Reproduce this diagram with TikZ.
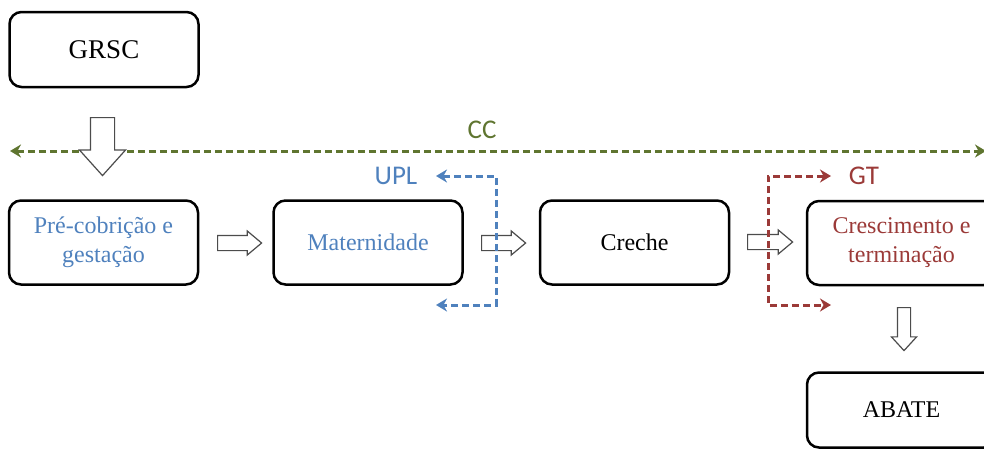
\documentclass[tikz,border=0pt]{standalone}
\usepackage{fontspec}
\setmainfont{Liberation Serif}
\newfontfamily\labelfont{Carlito}
\usetikzlibrary{shapes.arrows,arrows.meta}
\definecolor{ccgreen}{HTML}{5F7530}
\definecolor{uplblue}{HTML}{4F81BD}
\definecolor{gtred}{HTML}{9B3A38}

\begin{document}
\begin{tikzpicture}[x=1pt,y=-1pt,
  stage/.style={draw,line width=2.5pt,rounded corners=12pt,minimum width=189pt,
    minimum height=84pt,align=center,font=\fontsize{24}{29}\selectfont},
  ends/.style={stage,minimum height=75pt},
  fat/.style={single arrow,draw=black!70,fill=white,line width=1.2pt,anchor=tail},
  flow/.style={line width=3pt,dash pattern=on 7pt off 4pt,
    {Stealth[length=11pt,width=13pt]}-{Stealth[length=11pt,width=13pt]}},
  tag/.style={font=\labelfont\fontsize{27}{30}\selectfont}]
\useasboundingbox (0,0) rectangle (984,450);
% boxes
\node[ends,font=\fontsize{27}{30}\selectfont] (grsc) at (104,49.5) {GRSC};
\node[stage,text=uplblue] (pre) at (103.5,242.5) {Pré-cobrição e\\gestação};
\node[stage,text=uplblue] (mat) at (368,242.5) {Maternidade};
\node[stage] (creche) at (634.5,242.5) {Creche};
\node[stage,text=gtred] (cresc) at (901.5,243) {Crescimento e\\terminação};
\node[ends] (abate) at (901.5,410) {ABATE};
% CC line
\coordinate (ccL) at (10,151);
\coordinate (ccR) at (986,151);
\draw[flow,ccgreen] (ccL) -- (ccR);
\node[tag,text=ccgreen] (cc) at (482,130) {CC};
% block arrows
\node[fat,shape border rotate=270,minimum height=58pt,inner sep=11.5pt,
  single arrow head extend=11pt,single arrow tip angle=84] (fatTop) at (102.5,117) {};
\node[fat,minimum height=44pt,inner sep=7pt,single arrow head extend=4.5pt,
  single arrow tip angle=80] (fatA) at (217,243) {};
\node[fat,minimum height=44pt,inner sep=7pt,single arrow head extend=4.5pt,
  single arrow tip angle=80] (fatB) at (481,243) {};
\node[fat,minimum height=45pt,inner sep=7pt,single arrow head extend=4.5pt,
  single arrow tip angle=80] (fatC) at (747,242) {};
\node[fat,shape border rotate=270,minimum height=43pt,inner sep=6pt,
  single arrow head extend=6pt,single arrow tip angle=85] (fatEnd) at (904,307) {};
% UPL
\coordinate (uplTop) at (436,176);
\coordinate (uplBot) at (436,305);
\draw[flow,uplblue] (uplTop) -- ++(60,0) |- (uplBot);
\node[tag,text=uplblue] (upl) at (396,176) {UPL};
% GT
\coordinate (gtTop) at (831,176);
\coordinate (gtBot) at (831,305);
\draw[flow,gtred] (gtTop) -- ++(-63,0) |- (gtBot);
\node[tag,text=gtred] (gt) at (864,176) {GT};
\end{tikzpicture}
\end{document}
